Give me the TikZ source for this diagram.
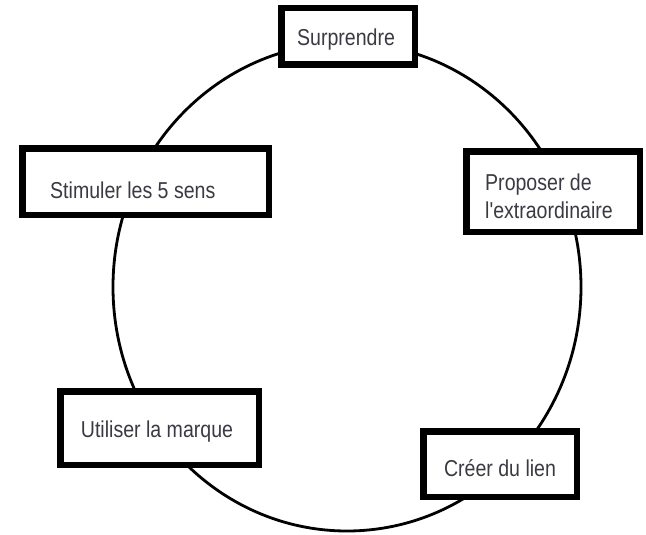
\documentclass[tikz,border=0pt]{standalone}
\usepackage{fontspec}
\setmainfont{Liberation Sans}[FakeStretch=0.85, Ligatures=TeXOff]
\definecolor{txt}{HTML}{3A3A42}
\begin{document}
\begin{tikzpicture}[x=1pt,y=-1pt,
  box/.style={draw=black, line width=6.5pt, fill=white, inner sep=0pt, rectangle},
  lbl/.style={text=txt, font=\fontsize{23}{28}\selectfont, inner sep=0pt},
  ring/.style={draw=black, line width=2.8pt}]
\useasboundingbox (0,0) rectangle (646,535);
\draw[ring] (347,287) ellipse [x radius=234, y radius=244];
\node[box, minimum width=133.5pt, minimum height=56.5pt] (b1) at (348,36.5) {};
\node[box, minimum width=246.5pt, minimum height=66.5pt] (b2) at (145.5,181.5) {};
\node[box, minimum width=173.5pt, minimum height=80.5pt] (b3) at (553,191.5) {};
\node[box, minimum width=198.5pt, minimum height=73.5pt] (b4) at (159.5,428) {};
\node[box, minimum width=153.5pt, minimum height=65.5pt] (b5) at (500,464) {};
\node[lbl] (t1) at (346,40) {Surprendre};
\node[lbl, anchor=west] (t2) at (50,190) {Stimuler les 5 sens};
\node[lbl, anchor=west, align=left] (t3) at (485,196) {Proposer de\\l'extraordinaire};
\node[lbl] (t4) at (157,432) {Utiliser la marque};
\node[lbl] (t5) at (500,468) {Créer du lien};
\end{tikzpicture}
\end{document}
